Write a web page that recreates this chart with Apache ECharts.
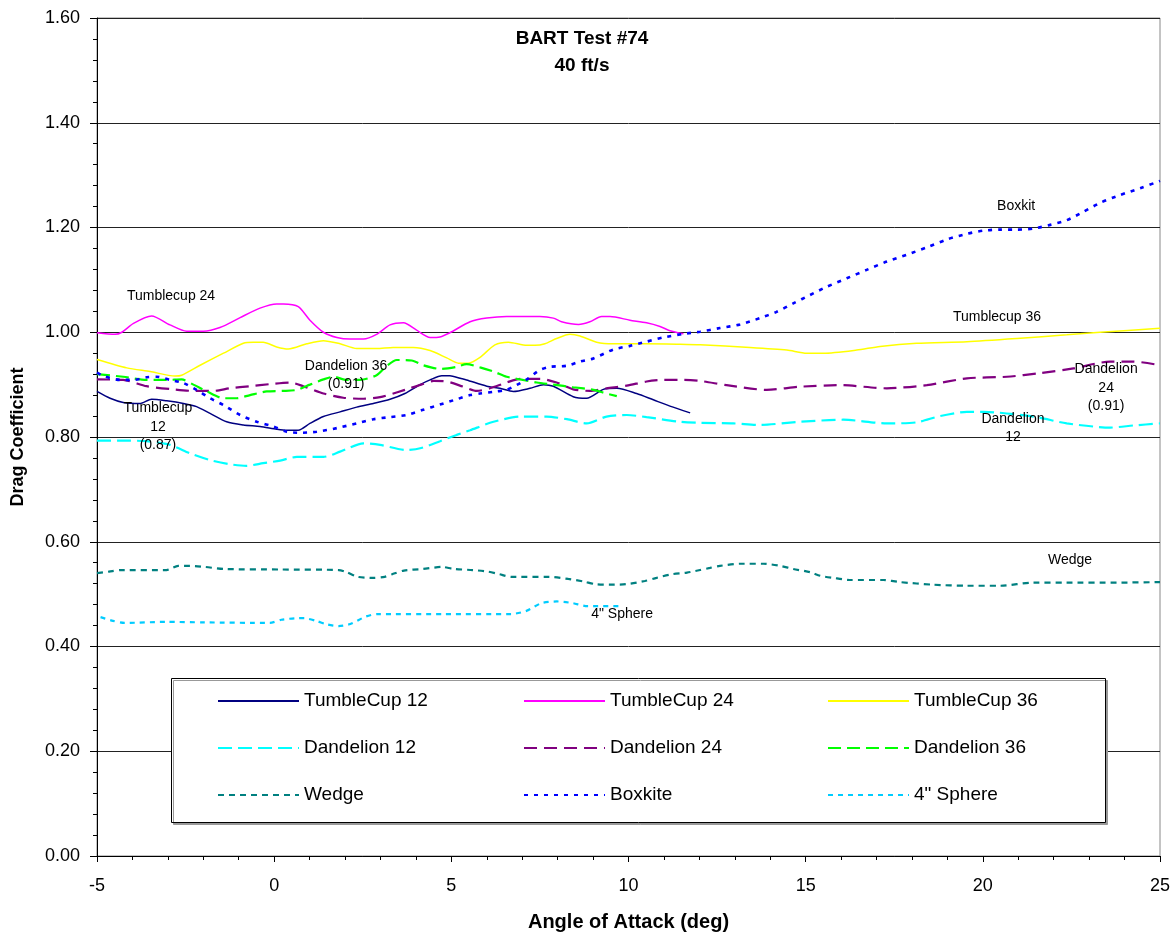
<!DOCTYPE html>
<html><head><meta charset="utf-8">
<script src="https://cdn.jsdelivr.net/npm/echarts@6/dist/echarts.min.js"></script>
<style>html,body{margin:0;padding:0;background:#fff}#chart{width:1175px;height:935px}</style>
</head><body><div id="chart"></div>
<script>
// ---------- data (angle of attack [deg], drag coefficient) ----------
const tumbleCup12 = [[-5,0.887],[-4.63,0.874],[-4.26,0.866],[-3.79,0.864],[-3.46,0.872],[-3.03,0.869],[-2.56,0.864],[-2.19,0.858],[-1.81,0.845],[-1.34,0.829],[-0.87,0.823],[-0.4,0.82],[0.07,0.815],[0.35,0.813],[0.68,0.813],[1.01,0.826],[1.39,0.839],[1.86,0.848],[2.33,0.857],[2.8,0.864],[3.27,0.872],[3.69,0.883],[4.12,0.9],[4.4,0.909],[4.73,0.917],[4.96,0.917],[5.25,0.912],[5.43,0.909],[6.0,0.897],[6.37,0.893],[6.75,0.887],[7.22,0.893],[7.6,0.9],[7.88,0.897],[8.44,0.877],[8.82,0.874],[9.29,0.891],[9.67,0.893],[10.23,0.883],[10.7,0.871],[11.17,0.859],[11.74,0.846]];
const tumbleCup24 = [[-5,0.999],[-4.49,0.996],[-4.3,1.0],[-3.97,1.017],[-3.46,1.031],[-2.94,1.014],[-2.47,1.002],[-2.0,1.002],[-1.53,1.009],[-0.96,1.028],[-0.4,1.046],[0.07,1.054],[0.26,1.054],[0.68,1.049],[1.01,1.023],[1.39,1.0],[1.77,0.99],[2.14,0.987],[2.52,0.987],[2.89,0.996],[3.27,1.014],[3.65,1.018],[4.02,1.004],[4.4,0.99],[4.68,0.991],[4.96,0.999],[5.53,1.02],[6.0,1.027],[6.56,1.03],[7.5,1.03],[7.88,1.027],[8.11,1.02],[8.59,1.015],[8.91,1.02],[9.24,1.03],[9.48,1.03],[10.04,1.023],[10.51,1.018],[10.89,1.011],[11.17,1.003],[11.55,0.997]];
const tumbleCup36 = [[-5,0.948],[-4.16,0.932],[-3.5,0.925],[-2.8,0.9165],[-2.61,0.918],[-2.09,0.937],[-1.43,0.96],[-0.87,0.979],[-0.59,0.981],[-0.31,0.981],[0.07,0.972],[0.4,0.968],[0.92,0.978],[1.39,0.984],[1.86,0.978],[2.33,0.969],[2.89,0.969],[3.36,0.971],[3.93,0.971],[4.4,0.965],[4.87,0.951],[5.2,0.941],[5.48,0.941],[5.81,0.952],[6.23,0.976],[6.61,0.981],[7.13,0.975],[7.36,0.975],[7.64,0.978],[7.97,0.988],[8.35,0.996],[8.63,0.993],[9.1,0.981],[9.57,0.978],[10.51,0.978],[11.46,0.977],[12.02,0.976],[13.43,0.971],[14.47,0.966],[15.03,0.96],[15.5,0.96],[16.44,0.966],[17.1,0.973],[18.13,0.979],[19.55,0.982],[20.96,0.988],[22.37,0.995],[23.31,1.0],[25,1.0075]];
const dandelion12 = [[-5,0.793],[-4.26,0.793],[-3.6,0.792],[-2.94,0.785],[-2.38,0.769],[-1.81,0.756],[-1.25,0.748],[-0.78,0.745],[-0.31,0.75],[0.17,0.755],[0.64,0.762],[1.39,0.762],[1.86,0.772],[2.52,0.788],[2.99,0.785],[3.74,0.775],[4.15,0.779],[4.68,0.792],[5.15,0.804],[5.53,0.813],[6.19,0.829],[6.94,0.839],[7.69,0.839],[8.26,0.834],[8.82,0.826],[9.38,0.839],[9.95,0.842],[10.51,0.838],[11.46,0.829],[12.02,0.827],[12.96,0.826],[13.71,0.823],[14.84,0.829],[16.06,0.833],[17.29,0.826],[18.13,0.828],[18.79,0.84],[19.55,0.848],[20.02,0.848],[21.43,0.839],[22.37,0.826],[23.59,0.818],[24.25,0.822],[25,0.826]];
const dandelion24 = [[-5,0.91],[-4.26,0.909],[-3.6,0.897],[-2.85,0.891],[-2.28,0.888],[-1.72,0.888],[-1.25,0.893],[-0.68,0.897],[-0.12,0.901],[0.45,0.904],[0.82,0.897],[1.39,0.883],[1.95,0.875],[2.52,0.873],[2.99,0.876],[3.5,0.886],[3.83,0.893],[4.15,0.9],[4.5,0.907],[4.87,0.906],[5.34,0.896],[5.72,0.888],[6.09,0.893],[6.56,0.904],[6.94,0.911],[7.5,0.911],[7.97,0.904],[8.44,0.891],[8.91,0.888],[9.38,0.893],[9.95,0.898],[10.51,0.906],[10.98,0.909],[11.55,0.909],[12.02,0.907],[12.77,0.899],[13.9,0.89],[14.84,0.896],[15.97,0.899],[17.29,0.893],[18.42,0.899],[19.55,0.912],[20.68,0.915],[21.62,0.922],[22.56,0.931],[23.59,0.944],[24.25,0.944],[25,0.937]];
const dandelion36 = [[-5,0.92],[-4.26,0.915],[-3.6,0.909],[-3.03,0.909],[-2.61,0.91],[-2.28,0.9],[-1.9,0.887],[-1.43,0.874],[-1.06,0.874],[-0.68,0.88],[-0.21,0.887],[0.26,0.888],[0.64,0.89],[1.01,0.9],[1.39,0.91],[1.67,0.915],[2.05,0.909],[2.42,0.909],[2.89,0.918],[3.18,0.936],[3.46,0.947],[3.88,0.946],[4.21,0.937],[4.68,0.93],[5.15,0.934],[5.43,0.939],[5.81,0.933],[6.19,0.925],[6.56,0.915],[6.94,0.91],[7.41,0.904],[7.88,0.9],[8.44,0.895],[9.01,0.89],[9.38,0.883],[9.67,0.878]];
const wedge = [[-5,0.54],[-4.66,0.543],[-4.33,0.546],[-3.04,0.546],[-2.71,0.554],[-2.39,0.554],[-1.96,0.552],[-1.42,0.548],[0.2,0.547],[1.82,0.546],[2.04,0.542],[2.36,0.533],[2.8,0.531],[3.12,0.533],[3.33,0.538],[3.66,0.545],[4.2,0.548],[4.74,0.552],[5.06,0.548],[5.6,0.546],[6.04,0.543],[6.36,0.538],[6.69,0.533],[7.76,0.533],[8.3,0.529],[8.74,0.524],[9.06,0.519],[9.49,0.518],[9.93,0.519],[10.46,0.525],[10.79,0.531],[11.22,0.538],[11.65,0.541],[12.02,0.546],[12.3,0.55],[12.58,0.554],[13.15,0.558],[13.81,0.558],[14.28,0.554],[14.65,0.548],[15.12,0.542],[15.41,0.535],[15.78,0.531],[16.25,0.527],[17.19,0.527],[17.66,0.523],[18.6,0.518],[19.55,0.516],[20.49,0.516],[21.43,0.522],[22.37,0.522],[23.78,0.522],[25,0.523]];
const boxkite = [[-5,0.923],[-4.82,0.9165],[-4.35,0.909],[-3.97,0.909],[-3.6,0.914],[-3.32,0.915],[-2.94,0.909],[-2.56,0.903],[-2.19,0.89],[-1.81,0.874],[-1.43,0.861],[-0.96,0.842],[-0.49,0.829],[-0.02,0.82],[0.35,0.81],[0.73,0.808],[1.2,0.81],[1.77,0.817],[2.33,0.826],[2.8,0.834],[3.27,0.838],[3.74,0.842],[4.21,0.852],[4.68,0.862],[5.15,0.872],[5.53,0.88],[5.81,0.883],[6.28,0.887],[6.56,0.89],[7.13,0.91],[7.5,0.928],[7.79,0.934],[8.26,0.936],[8.63,0.944],[9.01,0.95],[9.57,0.967],[10.04,0.974],[10.51,0.982],[10.98,0.99],[11.55,0.997],[12.02,1.001],[12.58,1.008],[13.15,1.015],[13.71,1.027],[14.18,1.039],[14.65,1.055],[15.12,1.071],[15.6,1.087],[16.16,1.103],[16.72,1.119],[17.29,1.135],[17.85,1.148],[18.42,1.162],[18.98,1.177],[19.55,1.188],[20.02,1.194],[20.49,1.196],[20.96,1.196],[21.43,1.198],[21.9,1.205],[22.37,1.214],[22.84,1.23],[23.31,1.247],[23.87,1.262],[24.44,1.275],[25,1.289]];
const sphere4 = [[-4.9,0.456],[-4.55,0.449],[-4.23,0.445],[-3.04,0.447],[-1.96,0.446],[-0.12,0.445],[0.2,0.451],[0.64,0.454],[0.85,0.454],[1.18,0.449],[1.5,0.442],[1.82,0.439],[2.15,0.443],[2.58,0.457],[2.9,0.462],[4.8,0.462],[6.69,0.462],[7.12,0.468],[7.55,0.483],[7.98,0.486],[8.41,0.483],[8.84,0.477],[9.76,0.477]];

const seriesNames = ['TumbleCup 12','TumbleCup 24','TumbleCup 36','Dandelion 12','Dandelion 24','Dandelion 36','Wedge','Boxkite','4" Sphere'];
const seriesData = [tumbleCup12, tumbleCup24, tumbleCup36, dandelion12, dandelion24, dandelion36, wedge, boxkite, sphere4];

// data labels: [series, angle, Cd, text]
const annotations = [
  ['TumbleCup 24', -2.91, 1.068, 'Tumblecup 24'],
  ['Dandelion 36', 2.03, 0.918, 'Dandelion 36\n(0.91)'],
  ['TumbleCup 12', -3.28, 0.819, 'Tumblecup\n12\n(0.87)'],
  ['Boxkite', 20.94, 1.2416, 'Boxkit'],
  ['TumbleCup 36', 20.40, 1.0297, 'Tumblecup 36'],
  ['Dandelion 24', 23.48, 0.8936, 'Dandelion\n24\n(0.91)'],
  ['Dandelion 12', 20.85, 0.8172, 'Dandelion\n12'],
  ['Wedge', 22.46, 0.5652, 'Wedge'],
  ['4" Sphere', 9.82, 0.4615, '4" Sphere']
];

const titleLines = ['BART Test #74', '40 ft/s'];
const xAxisName = 'Angle of Attack (deg)';
const yAxisName = 'Drag Coefficient';
const legendColumns = [
  ['TumbleCup 12','Dandelion 12','Wedge'],
  ['TumbleCup 24','Dandelion 24','Boxkite'],
  ['TumbleCup 36','Dandelion 36','4" Sphere']
];

// ---------- styles ----------
const FONT = 'Liberation Sans, Arial, Helvetica, sans-serif';
const lineStyles = {
  'TumbleCup 12': {color:'#000080', width:1.5, type:'solid'},
  'TumbleCup 24': {color:'#FF00FF', width:1.5, type:'solid'},
  'TumbleCup 36': {color:'#FFFF00', width:1.5, type:'solid'},
  'Dandelion 12': {color:'#00FFFF', width:2.2, type:[14,6]},
  'Dandelion 24': {color:'#800080', width:2.2, type:[13,7]},
  'Dandelion 36': {color:'#00FF00', width:2.2, type:[13,6]},
  'Wedge':        {color:'#008080', width:2.2, type:[6,5]},
  'Boxkite':      {color:'#0000FF', width:2.6, type:[4,6]},
  '4" Sphere':    {color:'#00CCFF', width:2.2, type:[5,5]}
};
const legendLefts = [217, 523, 827];

const series = seriesNames.map((name, i) => {
  const ls = lineStyles[name];
  const ann = annotations.filter(a => a[0] === name).map(a => ({
    coord: [a[1], a[2]], value: a[3]
  }));
  return {
    name, type: 'line', data: seriesData[i], symbol: 'none', showSymbol: false,
    smooth: 0.25, color: ls.color,
    lineStyle: {color: ls.color, width: ls.width, type: ls.type},
    itemStyle: {color: ls.color},
    emphasis: {disabled: true},
    markPoint: ann.length ? {
      symbol: 'rect', symbolSize: 1, itemStyle: {color: 'rgba(0,0,0,0)'},
      label: {show: true, position: 'inside', formatter: p => p.value,
        color: '#000', fontSize: 14, lineHeight: 18.5, fontFamily: FONT, align: 'center'},
      data: ann
    } : undefined
  };
});

const legends = legendColumns.map((col, i) => ({
  data: col, orient: 'vertical', left: legendLefts[i], top: 691, padding: 0,
  itemWidth: 81, itemHeight: 14, itemGap: 27, selectedMode: false, z: 5,
  itemStyle: {opacity: 0},
  textStyle: {fontSize: 19, lineHeight: 20, color: '#000', fontFamily: FONT, padding: [0,0,0,0]}
}));

const chart = echarts.init(document.getElementById('chart'));
chart.setOption({
  animation: false,
  backgroundColor: '#fff',
  title: {
    text: titleLines.join('\n'), left: 582, top: 25, padding: 0, textAlign: 'center',
    textStyle: {fontSize: 19, fontWeight: 'bold', lineHeight: 27, color: '#000', fontFamily: FONT}
  },
  grid: {left: 97, right: 15, top: 18, bottom: 79, show: true, borderColor: '#888', borderWidth: 1,
    backgroundColor: 'transparent', containLabel: false, outerBoundsMode: 'none'},
  xAxis: {
    type: 'value', min: -5, max: 25, interval: 5,
    name: xAxisName, nameLocation: 'middle', nameGap: 56,
    nameTextStyle: {fontSize: 20, fontWeight: 'bold', color: '#000', fontFamily: FONT},
    axisLine: {onZero: false, lineStyle: {color: '#000', width: 1}},
    axisTick: {show: true, length: 6, lineStyle: {color: '#000'}},
    minorTick: {show: true, splitNumber: 5, length: 4, lineStyle: {color: '#000'}},
    splitLine: {show: false},
    axisLabel: {fontSize: 18, color: '#000', margin: 21, fontFamily: FONT}
  },
  yAxis: {
    type: 'value', min: 0, max: 1.6, interval: 0.2,
    name: yAxisName, nameLocation: 'middle', nameGap: 70, nameRotate: 90,
    nameTextStyle: {fontSize: 18, fontWeight: 'bold', color: '#000', fontFamily: FONT},
    axisLine: {show: true, onZero: false, lineStyle: {color: '#000', width: 1}},
    axisTick: {show: true, length: 7, lineStyle: {color: '#000'}},
    minorTick: {show: true, splitNumber: 5, length: 4, lineStyle: {color: '#000'}},
    splitLine: {show: true, lineStyle: {color: '#222', width: 1}},
    axisLabel: {fontSize: 18, color: '#000', margin: 17, fontFamily: FONT, formatter: v => v.toFixed(2)}
  },
  legend: legends,
  graphic: [{
    type: 'rect', z: 3, silent: true,
    shape: {x: 171.5, y: 678.5, width: 934, height: 144},
    style: {fill: '#fff', stroke: '#000', lineWidth: 1, shadowColor: '#999', shadowOffsetX: 2, shadowOffsetY: 2, shadowBlur: 0}
  }],
  series
});
</script></body></html>
